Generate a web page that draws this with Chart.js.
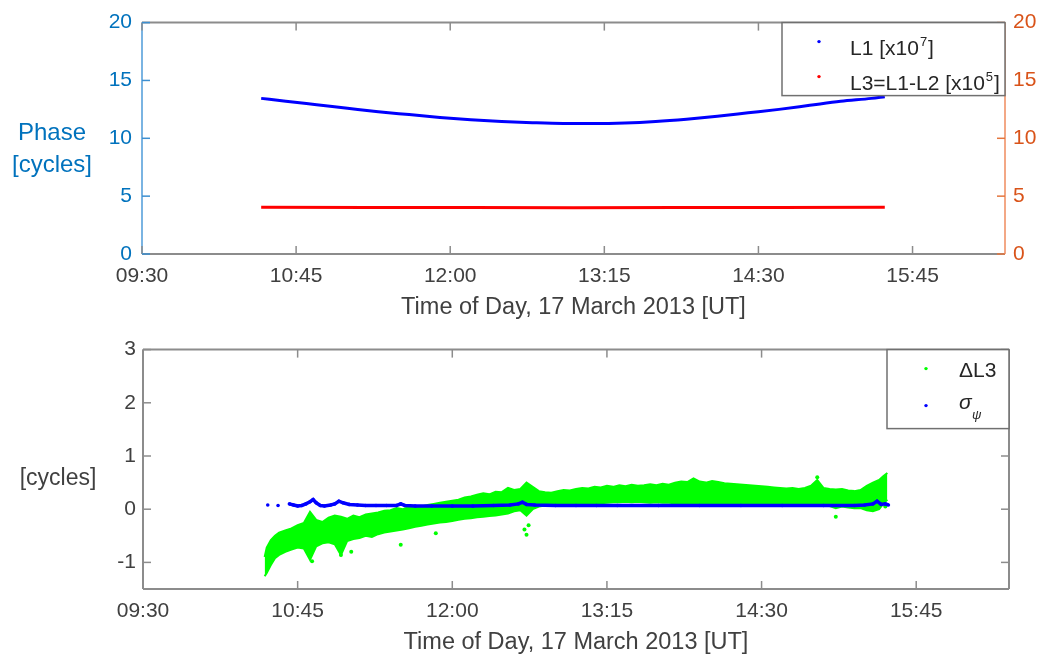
<!DOCTYPE html>
<html>
<head>
<meta charset="utf-8">
<script src="https://cdn.jsdelivr.net/npm/chart.js@4"></script>
<style>
  html, body { margin: 0; padding: 0; background: #fff; }
  #wrap { position: relative; width: 1039px; height: 659px; }
  canvas { position: absolute; left: 0; }
  #top-chart { top: 0; }
  #bottom-chart { top: 330px; }
</style>
</head>
<body>
<div id="wrap">
  <canvas id="top-chart" width="1039" height="330"></canvas>
  <canvas id="bottom-chart" width="1039" height="329"></canvas>
</div>
<script>
const FONT = '"Liberation Sans", Arial, Helvetica, sans-serif';
const GRAY_TEXT = '#404040';
const BLUE_TEXT = '#0072bd';
const ORANGE_TEXT = '#d95319';

// time axis in minutes after midnight
const xTickValues = [570, 645, 720, 795, 870, 945];
const xTickLabels = ['09:30', '10:45', '12:00', '13:15', '14:30', '15:45'];
const phaseTicks = [0, 5, 10, 15, 20];
const diffTicks = [-1, 0, 1, 2, 3];

// top panel
const l1Times = [628, 640, 655, 670, 685, 700, 715, 730, 745, 760, 775, 790, 805, 820, 835, 850, 865, 880, 895, 910, 925, 931.5];
const l1Values = [13.45, 13.2, 12.9, 12.6, 12.3, 12.05, 11.8, 11.6, 11.45, 11.35, 11.28, 11.27, 11.32, 11.45, 11.65, 11.9, 12.2, 12.5, 12.85, 13.2, 13.45, 13.6];
const l3Times = [628, 680, 730, 780, 830, 880, 931.5];
const l3Values = [4.03, 4.02, 4.01, 4.0, 4.01, 4.02, 4.03];

// bottom panel: delta L3 cloud (upper / lower edge), stray points, sigma
const dl3Times = [
  629, 630, 632, 634, 636, 639, 642, 645, 648, 651,
  654, 657, 660, 663, 666, 669, 672, 675, 678, 681,
  684, 687, 690, 693, 696, 699, 702, 705, 708, 711,
  714, 717, 720, 723, 726, 729, 732, 735, 738, 741,
  744, 747, 750, 753, 756, 759, 762, 765, 768, 771,
  774, 777, 780, 783, 786, 789, 792, 795, 798, 801,
  804, 807, 810, 813, 816, 819, 822, 825, 828, 831,
  834, 837, 840, 843, 846, 849, 852, 855, 858, 861,
  864, 867, 870, 873, 876, 879, 882, 885, 888, 891,
  894, 897, 900, 903, 906, 909, 912, 915, 918, 921,
  924, 927, 929, 931];
const dl3Upper = [
  -0.90, -0.72, -0.58, -0.50, -0.44, -0.40, -0.36, -0.30, -0.26, -0.05,
  -0.20, -0.24, -0.16, -0.12, -0.14, -0.18, -0.12, -0.15, -0.10, -0.08,
  -0.06, -0.03, -0.02, 0.02, 0.00, 0.04, 0.06, 0.05, 0.08, 0.10,
  0.12, 0.14, 0.16, 0.18, 0.22, 0.24, 0.27, 0.30, 0.28, 0.33,
  0.32, 0.40, 0.36, 0.38, 0.50, 0.42, 0.34, 0.32, 0.31, 0.34,
  0.36, 0.35, 0.38, 0.40, 0.39, 0.42, 0.41, 0.44, 0.42, 0.45,
  0.43, 0.46, 0.44, 0.45, 0.47, 0.45, 0.48, 0.46, 0.50, 0.52,
  0.51, 0.58, 0.52, 0.50, 0.53, 0.51, 0.49, 0.48, 0.47, 0.46,
  0.45, 0.44, 0.43, 0.42, 0.41, 0.40, 0.39, 0.40, 0.38, 0.40,
  0.44, 0.55, 0.40, 0.38, 0.37, 0.38, 0.35, 0.34, 0.36, 0.44,
  0.50, 0.55, 0.62, 0.68];
const dl3Lower = [
  -1.26, -1.20, -1.05, -0.92, -0.86, -0.80, -0.76, -0.72, -0.74, -0.95,
  -0.70, -0.64, -0.62, -0.66, -0.86, -0.60, -0.56, -0.54, -0.50, -0.52,
  -0.47, -0.44, -0.42, -0.40, -0.38, -0.36, -0.33, -0.31, -0.29, -0.27,
  -0.25, -0.24, -0.22, -0.20, -0.18, -0.17, -0.15, -0.14, -0.13, -0.12,
  -0.10, -0.08, -0.04, -0.02, -0.12, 0.00, 0.05, 0.07, 0.08, 0.08,
  0.08, 0.09, 0.10, 0.10, 0.11, 0.12, 0.11, 0.12, 0.13, 0.13,
  0.14, 0.13, 0.14, 0.13, 0.12, 0.13, 0.12, 0.12, 0.11, 0.11,
  0.10, 0.10, 0.11, 0.10, 0.11, 0.10, 0.10, 0.09, 0.10, 0.09,
  0.10, 0.09, 0.08, 0.08, 0.08, 0.07, 0.07, 0.07, 0.06, 0.06,
  0.08, 0.08, 0.07, 0.06, 0.02, 0.05, 0.03, 0.02, 0.02, -0.02,
  -0.04, 0.00, 0.10, 0.18];
const dl3OutlierTimes = [652, 666, 671, 695, 712, 755, 756, 757, 906, 897, 930];
const dl3OutlierValues = [-0.98, -0.86, -0.80, -0.67, -0.45, -0.38, -0.48, -0.30, -0.14, 0.60, 0.05];
const sigmaTimes = [630.5, 632, 635.5, 637, 641, 643, 645, 647, 649, 651,
  652.5, 654, 656, 658, 661, 663, 665, 667, 670, 674,
  678, 683, 688, 693, 695, 697, 702, 710, 720, 730,
  740, 748, 752, 754, 756, 760, 770, 780, 790, 800,
  820, 840, 860, 880, 900, 915, 920, 924, 926, 928,
  930, 931.5];
const sigmaValues = [0.08, null, 0.07, null, 0.10, 0.08, 0.06, 0.07, 0.10, 0.14,
  0.18, 0.12, 0.07, 0.06, 0.08, 0.10, 0.15, 0.12, 0.09, 0.08,
  0.07, 0.07, 0.07, 0.07, 0.10, 0.07, 0.06, 0.06, 0.06, 0.06,
  0.07, 0.08, 0.10, 0.13, 0.09, 0.08, 0.07, 0.07, 0.07, 0.07,
  0.07, 0.07, 0.07, 0.07, 0.07, 0.07, 0.08, 0.10, 0.15, 0.09,
  0.10, 0.08];

const pts = (xs, ys) => xs.map((x, i) => ({ x: x, y: ys[i] }));
const tickFont = { family: FONT, size: 21 };

function timeLabel(v) {
  const i = xTickValues.indexOf(v);
  return i >= 0 ? xTickLabels[i] : '';
}

function timeAxis(height, titlePad) {
  return {
    type: 'linear', position: 'bottom', min: 570, max: 990,
    afterBuildTicks: s => { s.ticks = xTickValues.map(v => ({ value: v })); },
    afterFit: s => { s.height = height; },
    grid: { display: false, drawTicks: false },
    border: { display: false },
    ticks: { callback: timeLabel, font: tickFont, color: GRAY_TEXT, padding: 10, maxRotation: 0, autoSkip: false },
    title: { display: true, text: 'Time of Day, 17 March 2013 [UT]', font: { family: FONT, size: 23.5 },
             color: GRAY_TEXT, padding: { top: 0, bottom: titlePad } }
  };
}

function valueAxis(pos, min, max, tickList, color, width, pad) {
  return {
    type: 'linear', position: pos, min: min, max: max,
    afterBuildTicks: s => { s.ticks = tickList.map(v => ({ value: v })); },
    afterFit: s => { s.width = width; },
    grid: { display: false, drawTicks: false },
    border: { display: false },
    ticks: { font: tickFont, color: color, padding: pad }
  };
}

function line(ctx, x1, y1, x2, y2, color) {
  ctx.strokeStyle = color;
  ctx.beginPath();
  ctx.moveTo(x1, y1);
  ctx.lineTo(x2, y2);
  ctx.stroke();
}

function dot(ctx, x, y, color) {
  ctx.fillStyle = color;
  ctx.beginPath();
  ctx.arc(x, y, 1.7, 0, Math.PI * 2);
  ctx.fill();
}

function withPower(ctx, x, y, base, power, tail, size) {
  ctx.font = size + 'px ' + FONT;
  ctx.fillText(base, x, y);
  let w = ctx.measureText(base).width;
  ctx.font = Math.round(size * 0.62) + 'px ' + FONT;
  ctx.fillText(power, x + w + 1, y - size * 0.42);
  w += ctx.measureText(power).width + 2;
  ctx.font = size + 'px ' + FONT;
  ctx.fillText(tail, x + w, y);
}

// MATLAB-style box with inward ticks, then extras (labels, legend)
function boxPlugin(o) {
  return {
    id: 'box',
    afterDatasetsDraw(chart) {
      const { ctx, chartArea: a, scales } = chart;
      const right = scales.y2 || scales.y;
      ctx.save();
      ctx.lineWidth = 2;
      line(ctx, a.left, a.top, a.right, a.top, o.box);
      line(ctx, a.left, a.bottom, a.right, a.bottom, o.box);
      line(ctx, a.left, a.top, a.left, a.bottom, o.left);
      line(ctx, a.right, a.top, a.right, a.bottom, o.right);
      ctx.lineWidth = 1.5;
      xTickValues.forEach(v => {
        const px = scales.x.getPixelForValue(v);
        line(ctx, px, a.bottom, px, a.bottom - 8, o.tick);
        line(ctx, px, a.top, px, a.top + 8, o.tick);
      });
      scales.y.ticks.forEach(t => {
        const py = scales.y.getPixelForValue(t.value);
        line(ctx, a.left, py, a.left + 8, py, o.leftTick);
      });
      right.ticks.forEach(t => {
        const py = right.getPixelForValue(t.value);
        line(ctx, a.right, py, a.right - 8, py, o.rightTick);
      });
      ctx.restore();
    },
    afterDraw(chart) {
      const ctx = chart.ctx;
      ctx.save();
      o.extras(ctx, chart.chartArea);
      ctx.restore();
    }
  };
}

new Chart(document.getElementById('top-chart'), {
  type: 'line',
  data: {
    datasets: [
      { label: 'L1', data: pts(l1Times, l1Values), borderColor: '#0000ff', borderWidth: 3,
        pointRadius: 0, cubicInterpolationMode: 'monotone', yAxisID: 'y' },
      { label: 'L3', data: pts(l3Times, l3Values), borderColor: '#ff0000', borderWidth: 3,
        pointRadius: 0, yAxisID: 'y' }
    ]
  },
  options: {
    responsive: false, animation: false, devicePixelRatio: 1,
    layout: { padding: { top: 14, left: 0, right: 0, bottom: 0 } },
    plugins: { legend: { display: false }, tooltip: { enabled: false } },
    scales: {
      x: timeAxis(76, 8),
      y: valueAxis('left', 0, 20, phaseTicks, BLUE_TEXT, 142, 10),
      y2: valueAxis('right', 0, 20, phaseTicks, ORANGE_TEXT, 34, 8)
    }
  },
  plugins: [boxPlugin({
    box: '#8c8c8c', tick: '#8c8c8c', left: '#7ab4e2', leftTick: '#3d8fd0', right: '#f3a886', rightTick: '#e4763e',
    extras(ctx, a) {
      ctx.fillStyle = BLUE_TEXT;
      ctx.font = '24px ' + FONT;
      ctx.textAlign = 'center';
      ctx.fillText('Phase', 52, 140);
      ctx.fillText('[cycles]', 52, 172);
      const bx = a.right - 223, by = a.top;
      ctx.fillStyle = '#fff';
      ctx.fillRect(bx, by, 223, 73);
      ctx.strokeStyle = '#707070';
      ctx.lineWidth = 1.5;
      ctx.strokeRect(bx, by, 223, 73);
      dot(ctx, bx + 37, by + 19, '#0000ff');
      dot(ctx, bx + 37, by + 54, '#ff0000');
      ctx.textAlign = 'left';
      ctx.fillStyle = '#262626';
      withPower(ctx, bx + 68, by + 32.5, 'L1 [x10', '7', ']', 21);
      withPower(ctx, bx + 68, by + 67.5, 'L3=L1-L2 [x10', '5', ']', 21);
    }
  })]
});

new Chart(document.getElementById('bottom-chart'), {
  type: 'line',
  data: {
    datasets: [
      { label: 'sigma', data: pts(sigmaTimes, sigmaValues), borderColor: '#0000ff', backgroundColor: '#0000ff',
        borderWidth: 3.5, pointRadius: 1.8, pointBorderWidth: 0, spanGaps: false, order: 0 },
      { label: 'dL3 upper', data: pts(dl3Times, dl3Upper), borderColor: '#00ff00', borderWidth: 2,
        pointRadius: 0, fill: false, order: 2 },
      { label: 'dL3 lower', data: pts(dl3Times, dl3Lower), borderColor: '#00ff00', backgroundColor: '#00ff00',
        borderWidth: 2, pointRadius: 0, fill: '-1', order: 2 },
      { label: 'dL3 stray', data: pts(dl3OutlierTimes, dl3OutlierValues), showLine: false,
        backgroundColor: '#00ff00', pointBorderWidth: 0, pointRadius: 2, order: 1 }
    ]
  },
  options: {
    responsive: false, animation: false, devicePixelRatio: 1,
    layout: { padding: { top: 19, left: 0, right: 30, bottom: 0 } },
    plugins: { legend: { display: false }, tooltip: { enabled: false } },
    scales: {
      x: timeAxis(70, 2),
      y: valueAxis('left', -1.5, 3, diffTicks, GRAY_TEXT, 143, 7)
    }
  },
  plugins: [boxPlugin({
    box: '#8c8c8c', tick: '#8c8c8c', left: '#8c8c8c', leftTick: '#8c8c8c', right: '#8c8c8c', rightTick: '#8c8c8c',
    extras(ctx, a) {
      ctx.fillStyle = GRAY_TEXT;
      ctx.font = '23px ' + FONT;
      ctx.textAlign = 'center';
      ctx.fillText('[cycles]', 58, 155);
      const bx = a.right - 122, by = a.top;
      ctx.fillStyle = '#fff';
      ctx.fillRect(bx, by, 122, 79);
      ctx.strokeStyle = '#707070';
      ctx.lineWidth = 1.5;
      ctx.strokeRect(bx, by, 122, 79);
      dot(ctx, bx + 39, by + 19, '#00ff00');
      dot(ctx, bx + 39, by + 56, '#0000ff');
      ctx.textAlign = 'left';
      ctx.fillStyle = '#262626';
      ctx.font = '21px ' + FONT;
      ctx.fillText('\u0394L3', bx + 72, by + 27.5);
      ctx.font = 'italic 21px ' + FONT;
      ctx.fillText('\u03c3', bx + 72, by + 59);
      ctx.font = 'italic 13px ' + FONT;
      ctx.fillText('\u03c8', bx + 85, by + 69);
    }
  })]
});
</script>
</body>
</html>
